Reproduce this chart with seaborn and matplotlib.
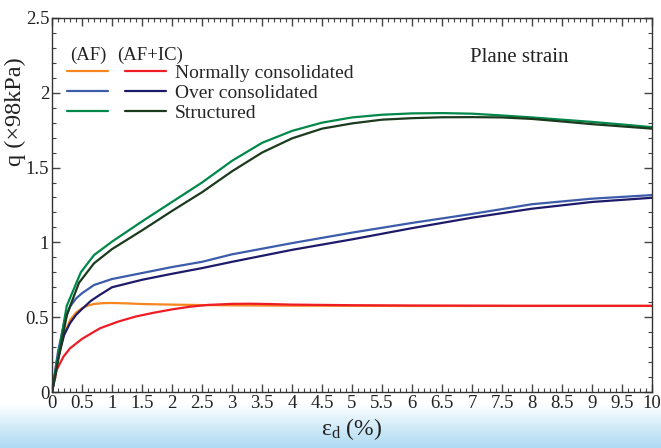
import numpy as np
import pandas as pd
import matplotlib.pyplot as plt
import seaborn as sns
from matplotlib.ticker import MultipleLocator
from matplotlib.colors import LinearSegmentedColormap

# strain (%) and deviator stress q (x98 kPa)
x_nc_af = [0, 0.08, 0.19, 0.3, 0.4, 0.5, 0.6, 0.7, 0.85, 1.0, 1.25, 1.5, 2.0, 2.5, 3.0, 4.0, 5.0, 6.0, 7.0, 8.0, 9.0, 10.0]
q_nc_af = [0, 0.21, 0.37, 0.48, 0.53, 0.56, 0.578, 0.588, 0.594, 0.595, 0.592, 0.588, 0.584, 0.581, 0.579, 0.577, 0.576, 0.575, 0.575, 0.575, 0.575, 0.575]

x_nc_ic = [0, 0.08, 0.19, 0.3, 0.5, 0.8, 1.1, 1.4, 1.7, 2.0, 2.3, 2.6, 3.0, 3.3, 3.6, 4.0, 5.0, 6.0, 7.0, 8.0, 9.0, 10.0]
q_nc_ic = [0, 0.15, 0.236, 0.292, 0.355, 0.426, 0.47, 0.505, 0.53, 0.552, 0.57, 0.582, 0.589, 0.59, 0.588, 0.584, 0.58, 0.578, 0.577, 0.576, 0.576, 0.576]

x_oc_af = [0, 0.1, 0.2, 0.3, 0.4, 0.5, 0.7, 1.0, 1.5, 2.0, 2.5, 3.0, 4.0, 5.0, 6.0, 7.0, 8.0, 9.0, 10.0]
q_oc_af = [0, 0.27, 0.46, 0.57, 0.625, 0.66, 0.715, 0.755, 0.795, 0.835, 0.87, 0.92, 0.995, 1.065, 1.13, 1.19, 1.255, 1.292, 1.316]

x_oc_ic = [0, 0.1, 0.2, 0.3, 0.4, 0.5, 0.65, 0.8, 1.0, 1.5, 2.0, 2.5, 3.0, 4.0, 5.0, 6.0, 7.0, 8.0, 9.0, 10.0]
q_oc_ic = [0, 0.22, 0.38, 0.46, 0.515, 0.555, 0.61, 0.65, 0.70, 0.75, 0.79, 0.828, 0.87, 0.95, 1.02, 1.095, 1.165, 1.225, 1.27, 1.298]

x_st_af = [0, 0.245, 0.48, 0.7, 1.0, 1.5, 2.0, 2.5, 3.0, 3.5, 4.0, 4.5, 5.0, 5.5, 6.0, 6.5, 7.0, 7.5, 8.0, 8.5, 9.0, 9.5, 10.0]
q_st_af = [0, 0.575, 0.80, 0.915, 1.005, 1.14, 1.27, 1.40, 1.545, 1.665, 1.745, 1.80, 1.835, 1.853, 1.862, 1.864, 1.86, 1.848, 1.835, 1.82, 1.805, 1.788, 1.77]

x_st_ic = [0, 0.25, 0.45, 0.7, 1.0, 1.5, 2.0, 2.5, 3.0, 3.5, 4.0, 4.5, 5.0, 5.5, 6.0, 6.5, 7.0, 7.5, 8.0, 8.5, 9.0, 9.5, 10.0]
q_st_ic = [0, 0.52, 0.73, 0.86, 0.955, 1.08, 1.21, 1.335, 1.475, 1.60, 1.695, 1.76, 1.795, 1.82, 1.83, 1.836, 1.837, 1.835, 1.825, 1.808, 1.79, 1.775, 1.76]

series_names = ['NC AF', 'NC IC', 'OC AF', 'OC IC', 'ST AF', 'ST IC']
series_x = [x_nc_af, x_nc_ic, x_oc_af, x_oc_ic, x_st_af, x_st_ic]
series_q = [q_nc_af, q_nc_ic, q_oc_af, q_oc_ic, q_st_af, q_st_ic]
colors = ['#F7861E', '#EE1C25', '#3C5CAA', '#1E1A6A', '#00884A', '#1B3A1E']
row_labels = ['Normally consolidated', 'Over consolidated', 'Structured']

df = pd.concat([pd.DataFrame({'strain': sx, 'q': sq, 'series': n})
                for n, sx, sq in zip(series_names, series_x, series_q)], ignore_index=True)

sns.set_style("ticks")
plt.rcParams['font.family'] = ['Liberation Serif', 'DejaVu Serif']
plt.rcParams['mathtext.fontset'] = 'custom'
plt.rcParams['mathtext.rm'] = 'Liberation Serif'
plt.rcParams['mathtext.it'] = 'Liberation Serif:italic'

fig = plt.figure(figsize=(6.61, 4.48), dpi=100)

# light blue band at the bottom
bg = fig.add_axes([0, 0, 1, 0.098], zorder=-5)
grad = np.linspace(0, 1, 100).reshape(-1, 1)
cmap = LinearSegmentedColormap.from_list('band', ['#AEDAF3', '#D4ECF9', '#FFFFFF'])
bg.imshow(grad, aspect='auto', cmap=cmap, origin='lower', extent=[0, 1, 0, 1])
bg.axis('off')

ax = fig.add_axes([0.0787, 0.125, 0.9077, 0.835])
ax.patch.set_alpha(0)
sns.lineplot(data=df, x='strain', y='q', hue='series', palette=colors,
             estimator=None, sort=False, linewidth=1.6, legend=False, ax=ax)

ax.set_xlim(0, 10)
ax.set_ylim(0, 2.5)
ax.xaxis.set_major_locator(MultipleLocator(0.5))
ax.xaxis.set_minor_locator(MultipleLocator(0.1))
ax.yaxis.set_major_locator(MultipleLocator(0.5))
ax.yaxis.set_minor_locator(MultipleLocator(0.1))
ax.set_xticklabels([f'{v:g}' for v in ax.get_xticks()])
ax.set_yticklabels([f'{v:g}' for v in ax.get_yticks()])
ax.tick_params(which='both', direction='in', top=True, right=True, color='#444444',
               labelcolor='#222222', labelsize=13.5, pad=2)
ax.tick_params(which='major', length=6, width=1)
ax.tick_params(which='minor', length=3, width=0.8)
for s in ax.spines.values():
    s.set_color('#333333')
    s.set_linewidth(1)

ax.set_xlabel(r'ε$_\mathrm{d}$ (%)', fontsize=17, color='#222222', labelpad=3)
ax.set_ylabel('q (×98kPa)', fontsize=17.5, color='#222222')
ax.yaxis.set_label_coords(-0.044, 0.75)

# legend: AF column, AF+IC column with labels
lines = ax.get_lines()
handles = [lines[0], lines[2], lines[4], lines[1], lines[3], lines[5]]
labels = ['', '', ''] + row_labels
ax.legend(handles, labels, ncol=2, loc='upper left', bbox_to_anchor=(0.025, 0.876),
          frameon=False, fontsize=14, handlelength=2.1, handletextpad=0.45,
          columnspacing=0.45, labelspacing=0.12, borderaxespad=0, borderpad=0)
ax.text(0.03, 0.901, '(AF)', transform=ax.transAxes, fontsize=13.5, va='center', color='#222222')
ax.text(0.108, 0.901, '(AF+IC)', transform=ax.transAxes, fontsize=13.5, va='center', color='#222222')
ax.text(0.778, 0.893, 'Plane strain', transform=ax.transAxes, fontsize=15,
        ha='center', va='center', color='#222222')

fig.savefig('out.png', dpi=100)
